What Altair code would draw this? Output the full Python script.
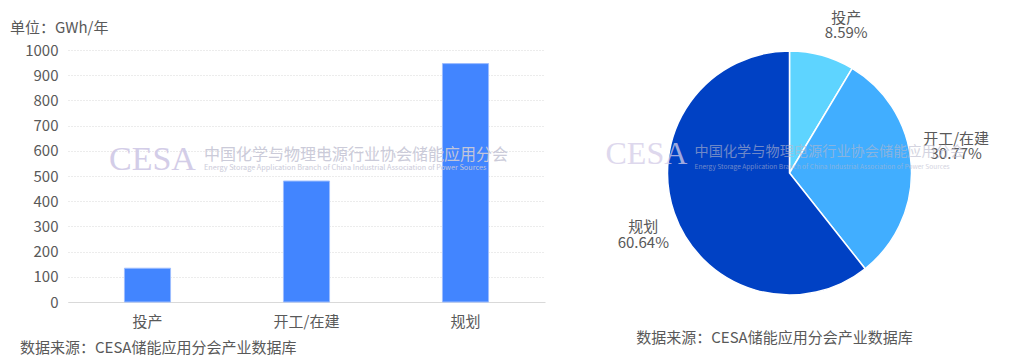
import altair as alt
import pandas as pd

# ---- data ----
categories = ["投产", "开工/在建", "规划"]
capacity_gwh = [134, 480, 946]
pie_labels = ["投产\n8.59%", "开工/在建\n30.77%", "规划\n60.64%"]
pie_colors = ["#5ED4FF", "#41AEFF", "#0041C4"]
y_ticks = [0, 100, 200, 300, 400, 500, 600, 700, 800, 900, 1000]

unit_text = "单位：GWh/年"
source_text = "数据来源：CESA储能应用分会产业数据库"
wm_logo = "CESA"
wm_cn = "中国化学与物理电源行业协会储能应用分会"
wm_en = "Energy Storage Application Branch of China Industrial Association of Power Sources"

FONT = "Noto Sans CJK SC"
GRAY = "#595959"

df = pd.DataFrame({"cat": categories, "value": capacity_gwh, "idx": list(range(len(categories))),
                   "label": pie_labels})

# ---- left: bar chart ----
LW, LH = 477, 252

bars = alt.Chart(df).mark_bar(color="#4285FF", stroke="#9DBDFF", strokeWidth=1).encode(
    x=alt.X("cat:N", sort=categories,
            scale=alt.Scale(paddingInner=0.71, paddingOuter=0.355),
            axis=alt.Axis(title=None, labelAngle=0, labelFont=FONT, labelFontSize=15,
                          labelColor=GRAY, ticks=False, domainColor="#D9D9D9",
                          labelPadding=12, domainWidth=1)),
    y=alt.Y("value:Q", scale=alt.Scale(domain=[0, 1000], nice=False),
            axis=alt.Axis(title=None, values=y_ticks, format="d", labelFont=FONT, labelFontSize=15,
                          labelColor=GRAY, ticks=False, domain=False, labelPadding=10,
                          gridColor="#D9D9D9", gridDash=[1, 2], gridWidth=1)),
)

def txt(s, x, y, size, color, align="left", font=FONT, opacity=1.0, baseline="middle"):
    return alt.Chart(pd.DataFrame({"t": [s]})).mark_text(
        align=align, baseline=baseline, font=font, fontSize=size, color=color, opacity=opacity
    ).encode(text="t:N", x=alt.value(x), y=alt.value(y))

left = alt.layer(
    bars,
    txt(wm_logo, 41, 110, 34, "#CFC8E6", font="Liberation Serif", opacity=0.9),
    txt(wm_cn, 136, 105, 16, "#C9C9D8", opacity=0.95),
    txt(wm_en, 136, 118, 7.3, "#C9C9D8", opacity=0.95),
    txt(unit_text, -58, -22, 15, GRAY),
    txt(source_text, -48, 298, 15, GRAY),
).properties(width=LW, height=LH)

# ---- right: pie chart ----
RW, RH = 380, 246

arcs = alt.Chart(df).mark_arc(outerRadius=122, stroke="white", strokeWidth=1.5).encode(
    theta=alt.Theta("value:Q", stack=True),
    order=alt.Order("idx:Q"),
    color=alt.Color("cat:N", sort=categories,
                    scale=alt.Scale(domain=categories, range=pie_colors), legend=None),
)

# per-label nudges (label layout offsets)
label_offsets = {"投产": (14, -1), "开工/在建": (7, -24), "规划": (5, 2)}
label_layers = []
for cat, (ddx, ddy) in label_offsets.items():
    label_layers.append(
        alt.Chart(df)
        .transform_window(cum="sum(value)", sort=[alt.SortField("idx")])
        .transform_calculate(mid="datum.cum - datum.value / 2")
        .transform_filter(alt.datum.cat == cat)
        .mark_text(radius=160, font=FONT, fontSize=15, color=GRAY, lineBreak="\n",
                   lineHeight=15.5, align="center", baseline="middle", dx=ddx, dy=ddy)
        .encode(theta=alt.Theta("mid:Q", stack=None), text="label:N")
    )

right = alt.layer(
    arcs,
    *label_layers,
    txt(wm_logo, 6, 104, 32, "#D3CCE8", font="Liberation Serif", opacity=0.75),
    txt(wm_cn, 95, 102, 14.2, "#B8B8CC", opacity=0.6),
    txt(wm_en, 95, 117, 6.6, "#B8B8CC", opacity=0.6),
    txt(source_text, 175, 288, 15, GRAY, align="center"),
).properties(width=RW, height=RH)

chart = alt.hconcat(left, right, spacing=54.5, bounds="flush").properties(
    padding={"left": 10, "top": 10, "right": 5, "bottom": 2}
).configure_view(strokeWidth=0, stroke=None)

chart.save("out.html", embed_options={"renderer": "svg", "actions": False})
